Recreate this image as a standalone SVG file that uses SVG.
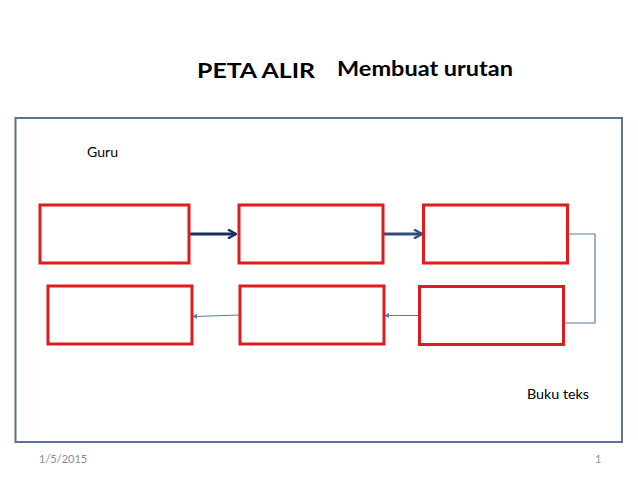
<svg xmlns="http://www.w3.org/2000/svg" width="638" height="479" viewBox="0 0 638 479">
<defs>
<style>
.box{fill:#fff;stroke:#e01b1b;stroke-width:3}
.thick{fill:none;stroke-width:3}
.thin{fill:none;stroke:#5b7ba3;stroke-width:1.2}
.t{font-family:Lato,"Open Sans","Liberation Sans",sans-serif;fill:#000}
.f{font-family:Lato,"Open Sans","Liberation Sans",sans-serif;fill:#8c8c8c;font-size:11px}
</style>
<marker id="chev1" viewBox="0 0 10 10" refX="9" refY="5" markerWidth="10" markerHeight="10" markerUnits="userSpaceOnUse" orient="auto"><path d="M1,0.5 L9,5 L1,9.5" fill="none" stroke="#1b2f5e" stroke-width="2.4"/></marker>
<marker id="chev2" viewBox="0 0 10 10" refX="9" refY="5" markerWidth="10" markerHeight="10" markerUnits="userSpaceOnUse" orient="auto"><path d="M1,0.5 L9,5 L1,9.5" fill="none" stroke="#2e4f7e" stroke-width="2.4"/></marker>
<marker id="tri" viewBox="0 0 6 6" refX="5" refY="3" markerWidth="5" markerHeight="5" markerUnits="userSpaceOnUse" orient="auto"><path d="M0,0 L6,3 L0,6 Z" fill="#5b7ba3"/></marker>
</defs>
<rect width="638" height="479" fill="#fff"/>
<text class="t" x="197" y="78" font-size="21" font-weight="bold" textLength="118" lengthAdjust="spacingAndGlyphs">PETA ALIR</text>
<text class="t" x="337" y="76" font-size="21" font-weight="bold" textLength="176" lengthAdjust="spacingAndGlyphs">Membuat urutan</text>
<rect id="frame" x="15.5" y="118" width="606.5" height="324" fill="none" stroke="#5a7294" stroke-width="2"/>
<text class="t" x="87" y="157" font-size="14" textLength="31" lengthAdjust="spacingAndGlyphs">Guru</text>
<text class="t" x="527" y="399" font-size="14" textLength="62" lengthAdjust="spacingAndGlyphs">Buku teks</text>
<text class="f" x="39" y="463">1/5/2015</text>
<text class="f" x="595" y="463">1</text>
<g id="connectors">
<line class="thick" x1="189" y1="234" x2="236" y2="234" stroke="#1b2f5e" marker-end="url(#chev1)"/>
<line class="thick" x1="383" y1="234" x2="422" y2="234" stroke="#2e4f7e" marker-end="url(#chev2)"/>
<polyline class="thin" points="568,234 595,234 595,323 564,323"/>
<line class="thin" x1="420" y1="315.5" x2="385" y2="315.5" marker-end="url(#tri)"/>
<line class="thin" x1="240" y1="315" x2="193" y2="316.5" marker-end="url(#tri)"/>
</g>
<g id="box1"><rect class="box" x="40" y="205" width="149" height="58"/></g>
<g id="box2"><rect class="box" x="239" y="205" width="144" height="58"/></g>
<g id="box3"><rect class="box" x="423.5" y="205" width="144" height="58"/></g>
<g id="box4"><rect class="box" x="48" y="286" width="144" height="58"/></g>
<g id="box5"><rect class="box" x="240" y="286" width="144" height="58"/></g>
<g id="box6"><rect class="box" x="419.5" y="286.5" width="144" height="58"/></g>
</svg>
